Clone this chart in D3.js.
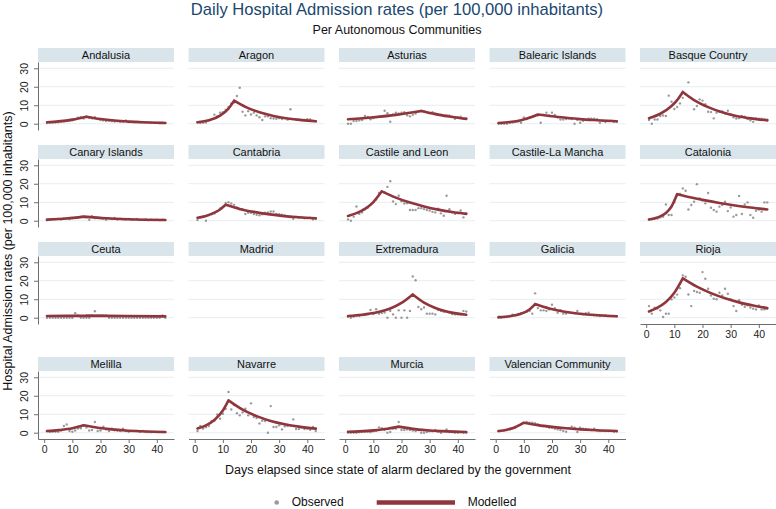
<!DOCTYPE html>
<html><head><meta charset="utf-8">
<script src="https://cdn.jsdelivr.net/npm/d3@7"></script>
<style>
body{margin:0;background:#fff}
svg{display:block}
text{font-family:"Liberation Sans",Arial,Helvetica,sans-serif}
</style>
</head><body>
<svg id="chart" width="776" height="509"></svg>
<script>
// ---------------- DATA ----------------
const regions = ["Andalusia","Aragon","Asturias","Balearic Islands","Basque Country",
  "Canary Islands","Cantabria","Castile and Leon","Castile-La Mancha","Catalonia",
  "Ceuta","Madrid","Extremadura","Galicia","Rioja",
  "Melilla","Navarre","Murcia","Valencian Community"];

const days = [1,2,3,4,5,6,7,8,9,10,11,12,13,14,15,16,17,18,19,20,21,22,23,24,25,26,27,28,29,30,31,32,33,34,35,36,37,38,39,40,41,42,43];
const xTicks = [0,10,20,30,40];
const yTicks = [0,10,20,30];

// Observed daily rates (days 1..43)
const obsAndalusia = [0.4,0.5,0.6,0.7,0.8,1.0,1.2,1.4,1.6,1.8,2.5,3.2,3.5,2.8,3.8,3.2,2.9,3.5,2.5,2.0,1.8,1.5,1.6,1.4,1.2,1.3,1.1,1.0,1.8,0.9,1.0,0.8,0.9,0.7,0.8,0.6,0.7,0.5,0.6,0.5,0.4,0.5,0.4];
const obsAragon = [0.7,0.4,0.5,0.6,1.8,2.5,4.9,4.0,6.0,6.2,7.5,9.0,11.0,11.5,15.0,19.5,6.5,4.5,6.8,5.0,6.0,4.5,3.5,2.0,4.0,4.0,3.0,2.8,2.7,3.0,2.5,3.0,2.2,7.8,2.5,2.2,2.3,2.0,2.0,2.5,2.3,1.5,1.3];
const obsAsturias = [0,0,1.5,1.5,1.8,2.0,4.2,3.6,2.4,3.0,3.5,3.8,4.0,7.0,5.7,1.1,5.0,5.9,5.5,6.0,6.2,4.6,4.0,4.8,5.5,6.6,7.0,6.8,6.4,6.0,6.2,5.5,5.0,4.8,4.4,4.6,4.5,3.8,2.7,3.5,3.8,2.7,2.8];
const obsBalearic = [0,0,0,0,0.4,0.6,0.9,1.2,0.5,3.4,2.5,3.4,3.8,4.2,4.5,0.5,4.8,6.0,4.5,6.0,4.7,3.5,2.3,2.3,2.5,2.8,2.5,0,2.0,0.5,1.6,2.0,2.7,2.7,2.7,2.5,0.5,1.5,0.9,1.5,1.6,1.1,1.1];
const obsBasque = [2.0,0,2.3,2.3,4.2,4.5,4.2,15.2,11.9,8.0,9.0,11.0,14.0,16.0,22.4,14.0,7.8,9.6,13.2,12.5,10.5,6.5,6.3,2.9,6.0,6.5,6.6,5.5,7.0,5.0,3.5,2.8,3.0,4.2,3.8,2.5,1.8,1.0,2.8,2.7,2.7,2.5,2.2];
const obsCanary = [0.3,0.5,0.6,0.8,1.0,0.7,1.2,1.3,0.9,1.5,1.6,1.7,2.0,2.2,1.8,0.5,2.5,1.4,1.8,1.5,1.2,0.5,1.3,0.9,1.5,0.6,1.0,0.8,0.6,0.9,0.5,0.7,0.9,0.4,0.6,0.8,0.3,0.5,0.4,0.6,0.3,0.5,0.4];
const obsCantabria = [0.4,1.8,2.1,0,3.0,3.5,3.9,5.2,6.6,7.5,9.6,10.0,9.3,8.6,7.0,6.2,6.2,3.6,4.3,4.3,3.6,3.2,2.9,3.5,4.3,4.5,5.0,5.0,3.6,3.5,3.2,2.8,2.5,2.0,1.1,2.0,1.6,1.8,1.3,1.5,1.7,0.7,1.0];
const obsCastileLeon = [0.7,0,2.2,7.7,3.7,4.5,6.2,7.0,8.6,10.0,11.5,15.0,15.5,15.5,18.3,21.4,10.4,9.0,13.5,10.5,9.3,9.5,5.8,5.8,5.8,6.8,6.8,6.3,5.8,5.5,4.8,4.5,6.5,4.0,2.7,13.5,6.2,4.5,3.7,4.0,5.5,1.8,4.0];
const obsCastileLaMancha = [];
const obsCatalonia = [0.5,0.8,1.0,1.2,1.8,2.2,8.8,3.1,3.1,10.0,13.7,14.5,17.5,16.2,6.1,8.5,10.3,19.8,12.1,11.0,9.4,15.0,7.0,5.8,4.9,7.6,8.5,10.3,5.2,7.2,2.2,3.1,13.4,3.6,8.8,9.9,3.1,1.6,5.4,6.0,4.9,9.9,9.9];
const obsCeuta = [0,0,0,0,0,0,0,0,0,0,2.4,1.2,0,0,0,0,1.2,3.5,1.2,1.2,1.2,1.2,0,0,0,0,0,0,0,0,0,0,0,0,0,0,0,0,0,0,0,1.2,0];
const obsMadrid = [];
const obsExtremadura = [0.5,0,0.5,0.9,0.9,1.3,1.5,1.8,4.2,2.0,4.6,2.2,2.5,2.8,0,3.7,1.8,0,4.0,0,4.0,0,3.7,22.3,20.3,5.8,4.6,5.5,2.2,2.2,2.2,1.8,4.2,3.7,3.2,3.2,2.8,2.0,1.8,1.8,1.8,3.7,3.4];
const obsGalicia = [0,0,0.2,0.4,0.9,1.6,1.5,2.0,2.4,2.8,3.2,3.6,2.2,13.2,5.2,4.0,4.0,3.6,4.5,7.0,5.2,2.7,4.1,2.2,2.2,3.0,2.6,2.4,3.6,2.0,1.8,2.4,2.7,1.5,1.3,1.2,0.9,1.2,1.4,0.9,0.9,0.9,0.8];
const obsRioja = [6.3,2.2,5.4,5.0,4.0,0.4,2.2,2.2,9.9,11.0,12.5,16.0,22.9,22.2,12.6,6.3,14.5,13.9,13.5,24.7,21.1,15.7,12.0,10.3,10.0,13.5,12.0,15.7,13.0,10.0,6.3,3.6,9.5,7.0,5.9,6.7,5.5,4.9,4.5,6.7,4.5,4.5,5.0];
const obsMelilla = [0.9,0.5,0.5,0.5,0.5,1.2,3.6,4.5,0.9,0.5,1.2,2.3,2.4,4.0,2.8,1.2,1.5,5.8,0.9,1.2,3.2,1.8,0.9,2.2,1.3,1.2,0.9,2.2,0.9,0.5,0.9,0.9,0.9,0.5,0.9,0.4,0.3,0.3,0.4,0.3,0.3,0.3,0.3];
const obsNavarre = [0.9,3.6,2.2,3.0,3.6,6.3,6.5,9.9,7.6,10.3,13.0,22.0,12.6,15.0,10.5,9.4,11.0,13.0,9.4,15.9,8.5,8.0,5.0,6.5,6.3,0,14.4,3.1,3.1,4.0,1.8,3.5,3.6,4.0,7.2,2.0,2.0,2.8,2.0,2.2,1.6,3.1,0.9];
const obsMurcia = [0,0,0,0,0.3,0.5,0.5,0.5,0.3,0.8,1.0,2.9,2.5,1.5,0,0.4,2.2,2.2,5.8,1.5,1.5,1.8,1.5,1.2,0.9,1.5,0,0,0.4,0.8,0.8,1.5,0.5,0,1.0,1.8,0.4,0.3,0,0,0.2,0,0];
const obsValencian = [0.8,1.0,1.3,1.5,1.8,2.5,3.3,3.8,4.5,5.2,5.8,5.4,5.4,5.1,4.5,3.6,3.5,3.2,2.7,2.7,2.2,1.8,1.5,0.9,0.5,2.5,3.2,2.7,0.4,2.7,2.2,2.0,1.8,1.5,2.2,1.2,0.9,1.0,0.9,0.9,0.9,0.5,0.6];

// Modelled curve, read at [day, rate] points (peak included)
const modAndalusia = [[1,0.8],[5,1.25],[10,2.2],[15,3.8],[20,2.55],[25,1.7],[30,1.15],[35,0.77],[40,0.52],[43,0.4]];
const modAragon = [[1,0.8],[5,1.86],[9,4.34],[12,8.15],[14,12.5],[18,9.15],[23,6.2],[28,4.2],[33,2.85],[38,1.93],[43,1.3]];
const modAsturias = [[1,2.4],[10,3.5],[18,4.8],[27,6.9],[32,5.2],[37,3.9],[43,2.6]];
const modBalearic = [[1,0.4],[5,0.9],[9,1.9],[12,3.2],[15,5.0],[20,4.0],[25,3.2],[30,2.5],[36,1.9],[43,1.3]];
const modBasque = [[1,3.0],[5,5.4],[9,9.6],[11,12.8],[13,17.2],[17,12.8],[22,9.0],[27,6.2],[32,4.2],[37,2.9],[43,1.8]];
const modCanary = [[1,0.6],[8,1.2],[14,2.2],[22,1.3],[30,0.8],[43,0.4]];
const modCantabria = [[1,1.6],[4,2.6],[7,4.4],[9,6.1],[11,8.6],[16,6.4],[21,4.8],[26,3.55],[31,2.64],[37,1.86],[43,1.3]];
const modCastileLeon = [[1,2.6],[4,4.1],[7,6.4],[10,10.1],[13,15.9],[18,12.5],[23,9.8],[28,7.7],[33,6.0],[38,4.7],[43,3.7]];
const modCastileLaMancha = [];
const modCatalonia = [[1,0.7],[4,1.7],[7,4.2],[9,7.7],[11,14.4],[16,12.6],[21,11.0],[26,9.6],[31,8.4],[37,7.15],[43,6.1]];
const modCeuta = [[1,0.95],[15,1.15],[29,0.9],[43,0.75]];
const modMadrid = [];
const modExtremadura = [[1,0.9],[6,1.6],[11,2.8],[16,5.0],[20,8.0],[24,12.6],[28,8.2],[32,5.3],[36,3.4],[40,2.2],[43,1.6]];
const modGalicia = [[1,0.3],[5,0.8],[9,2.15],[12,4.5],[14,7.4],[19,5.05],[24,3.4],[29,2.3],[34,1.6],[39,1.08],[43,0.8]];
const modRioja = [[1,3.4],[4,5.4],[7,8.5],[10,13.5],[13,21.3],[18,16.8],[23,13.3],[28,10.5],[33,8.3],[38,6.6],[43,5.2]];
const modMelilla = [[1,0.9],[5,1.4],[10,2.4],[14,4.0],[19,2.7],[24,1.8],[29,1.2],[34,0.82],[39,0.55],[43,0.4]];
const modNavarre = [[1,2.3],[4,4.0],[7,6.9],[10,12.0],[12,17.5],[17,12.5],[22,9.0],[27,6.4],[32,4.6],[37,3.3],[43,2.2]];
const modMurcia = [[1,0.5],[5,0.75],[10,1.25],[15,2.1],[19,3.3],[24,2.1],[29,1.37],[34,0.88],[39,0.57],[43,0.4]];
const modValencian = [[1,0.9],[4,1.64],[7,3.0],[10,5.4],[15,4.1],[20,3.15],[25,2.4],[30,1.83],[36,1.3],[43,0.9]];

// lookup built from the arrays above
const observed = [obsAndalusia,obsAragon,obsAsturias,obsBalearic,obsBasque,
  obsCanary,obsCantabria,obsCastileLeon,obsCastileLaMancha,obsCatalonia,
  obsCeuta,obsMadrid,obsExtremadura,obsGalicia,obsRioja,
  obsMelilla,obsNavarre,obsMurcia,obsValencian];
const modelled = [modAndalusia,modAragon,modAsturias,modBalearic,modBasque,
  modCanary,modCantabria,modCastileLeon,modCastileLaMancha,modCatalonia,
  modCeuta,modMadrid,modExtremadura,modGalicia,modRioja,
  modMelilla,modNavarre,modMurcia,modValencian];

// ---------------- DRAW ----------------
const svg = d3.select("#chart");
const lineCol = "#90353b", dotCol = "#9a9a9a", headBg = "#d9e5eb", gridCol = "#e6eef1", axisCol = "#6e6e6e";
const colX0 = 38, colStep = 150.5, panelW = 136;
const rowTops = [48, 145, 242, 357], headerH = 14, plotH = 68;

svg.append("text").attr("x", 397).attr("y", 15).attr("text-anchor", "middle")
  .attr("font-size", 16.6).attr("fill", "#1a476f")
  .text("Daily Hospital Admission rates (per 100,000 inhabitants)");
svg.append("text").attr("x", 397).attr("y", 33.5).attr("text-anchor", "middle")
  .attr("font-size", 12.5).attr("fill", "#111")
  .text("Per Autonomous Communities");

regions.forEach((name, i) => {
  const c = i % 5, r = Math.floor(i / 5);
  const x0 = colX0 + c * colStep, top = rowTops[r];
  const pTop = top + headerH;
  const g = svg.append("g");
  const x = d3.scaleLinear().domain([-2.2, 46.1]).range([x0, x0 + panelW]);
  const y = d3.scaleLinear().domain([-3.4, 33.4]).range([pTop + plotH, pTop]);

  g.append("rect").attr("x", x0).attr("y", top).attr("width", panelW).attr("height", headerH).attr("fill", headBg);
  g.append("text").attr("x", x0 + panelW / 2).attr("y", top + 10.8).attr("text-anchor", "middle")
    .attr("font-size", 11).attr("fill", "#111").text(name);

  g.selectAll("line.grid").data(yTicks).enter().append("line")
    .attr("x1", x0).attr("x2", x0 + panelW).attr("y1", d => y(d)).attr("y2", d => y(d))
    .attr("stroke", gridCol).attr("stroke-width", 1);

  const obs = observed[i];
  g.selectAll("circle").data(obs).enter().append("circle")
    .attr("cx", (d, k) => x(days[k])).attr("cy", d => y(d)).attr("r", 1.2).attr("fill", dotCol);

  const mod = modelled[i];
  if (mod.length) {
    let pk = 0;
    mod.forEach((p, k) => { if (p[1] > mod[pk][1]) pk = k; });
    const line = d3.line().x(d => x(d[0])).y(d => y(d[1])).curve(d3.curveMonotoneX);
    const dStr = line(mod.slice(0, pk + 1)) + line(mod.slice(pk));
    g.append("path").attr("d", dStr).attr("fill", "none").attr("stroke", lineCol)
      .attr("stroke-width", 2.6).attr("stroke-linecap", "round").attr("stroke-linejoin", "round");
  }

  if (c === 0) {
    const ax = g.append("g").attr("transform", `translate(${x0},0)`)
      .call(d3.axisLeft(y).tickValues(yTicks).tickSize(4).tickSizeOuter(0));
    ax.select(".domain").attr("stroke", axisCol);
    ax.selectAll(".tick line").attr("stroke", axisCol);
    ax.selectAll(".tick text").attr("transform", "rotate(-90)").attr("x", 0).attr("y", -10.5).attr("dy", 0)
      .attr("text-anchor", "middle").attr("font-size", 10.5).attr("fill", "#222")
      .attr("font-family", "Liberation Sans, Arial, sans-serif");
  }
  if (i + 5 >= regions.length) {
    const ax = g.append("g").attr("transform", `translate(0,${pTop + plotH})`)
      .call(d3.axisBottom(x).tickValues(xTicks).tickSize(4).tickSizeOuter(0));
    ax.select(".domain").attr("stroke", axisCol);
    ax.selectAll(".tick line").attr("stroke", axisCol);
    ax.selectAll(".tick text").attr("y", 7).attr("dy", "0.71em").attr("font-size", 10.5).attr("fill", "#222")
      .attr("font-family", "Liberation Sans, Arial, sans-serif");
  }
});

svg.append("text").attr("x", 398).attr("y", 473.5).attr("text-anchor", "middle")
  .attr("font-size", 12.5).attr("fill", "#111")
  .text("Days elapsed since state of alarm declared by the government");
svg.append("text").attr("transform", "translate(11.5,251) rotate(-90)").attr("text-anchor", "middle")
  .attr("font-size", 12.5).attr("fill", "#111")
  .text("Hospital Admission rates (per 100,000 inhabitants)");

// legend
const lg = svg.append("g");
lg.append("circle").attr("cx", 276.7).attr("cy", 502.5).attr("r", 2.3).attr("fill", dotCol);
lg.append("text").attr("x", 291.7).attr("y", 506).attr("font-size", 12).attr("fill", "#111").text("Observed");
lg.append("line").attr("x1", 376.7).attr("x2", 455).attr("y1", 502.5).attr("y2", 502.5)
  .attr("stroke", lineCol).attr("stroke-width", 4.5);
lg.append("text").attr("x", 467.7).attr("y", 506).attr("font-size", 12).attr("fill", "#111").text("Modelled");
</script>
</body></html>
